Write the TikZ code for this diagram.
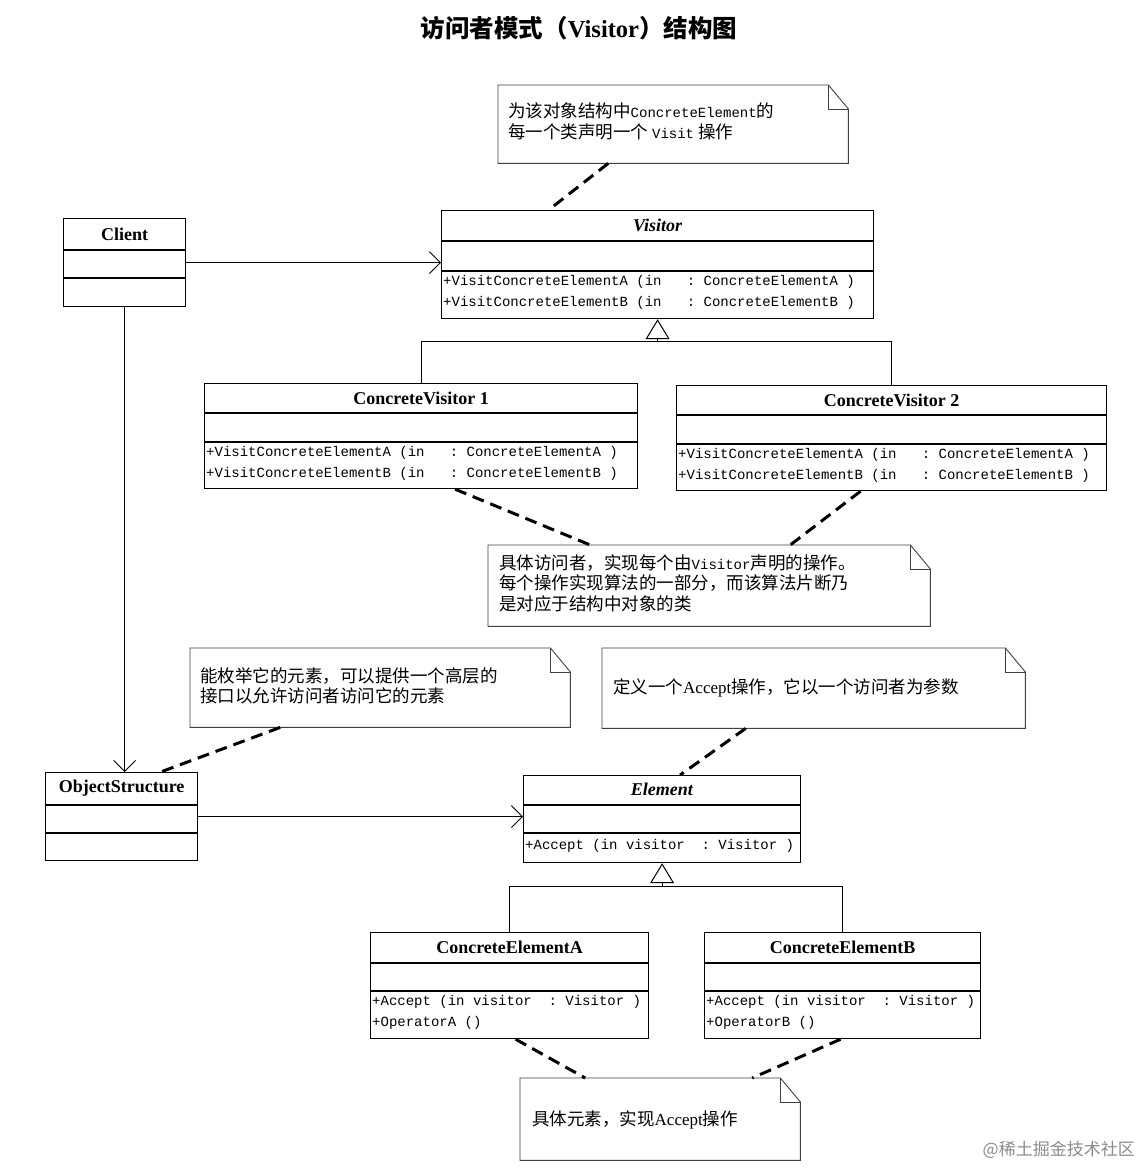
\documentclass[tikz,border=0pt]{standalone}
\usepackage{fontspec}
\setmainfont{Liberation Serif}
\setmonofont{Liberation Mono}
\newfontfamily\cjk{Noto Sans CJK SC}
\usetikzlibrary{arrows.meta,calc}
\newcommand\mylat[1]{{\fontsize{14}{20}\selectfont\ttfamily #1}}
\newcommand\myser[1]{{\fontsize{17}{20}\selectfont\rmfamily #1}}
\newcommand\csep[2]{\draw[sep] (#1.west |- 0,#2) -- (#1.east |- 0,#2);}
\newcommand\drawnote[1]{%
  \draw[noteline] (#1.north west) -- ($(#1.north east)+(-20,0)$) -- ($(#1.north east)+(0,24)$) -- (#1.south east) -- (#1.south west) -- cycle;
  \draw[noteline] ($(#1.north east)+(-20,0)$) -- ($(#1.north east)+(-20,24)$) -- ($(#1.north east)+(0,24)$);}
\tikzset{
 cls/.style={draw, line width=1.2pt, anchor=north west, inner sep=0pt},
 sep/.style={line width=1.2pt},
 ctitle/.style={font=\fontsize{18}{20}\selectfont\bfseries, inner sep=0pt},
 meth/.style={font=\fontsize{14}{21}\selectfont\ttfamily, align=left, anchor=north west, inner sep=0pt},
 notebox/.style={anchor=north west, inner sep=0pt},
 noteline/.style={draw=black!75, line width=0.9pt, line join=miter},
 ntext/.style={font=\fontsize{17.5}{20.5}\selectfont\cjk, align=left, anchor=north west, inner sep=0pt},
 dashc/.style={line width=3pt, dash pattern=on 12pt off 7pt},
 assoc/.style={line width=0.9pt, -{Straight Barb[length=11pt,width=22pt,line width=0.9pt]}},
 inherit/.style={line width=1pt, -{Triangle[open,length=20pt,width=24pt,line width=1pt]}},
 link/.style={line width=1pt},
}
\begin{document}
\begin{tikzpicture}[x=1pt,y=-1pt]
\fill[white] (0,0) rectangle (1141,1168);
\useasboundingbox (0,0) rectangle (1141,1168);

% title
\node[font=\fontsize{24.5}{28}\selectfont\cjk\bfseries, inner sep=0pt] (title) at (579,28) {访问者模式（{\rmfamily\bfseries Visitor}）结构图};

% ---------- classes ----------
% Client
\node[cls, minimum width=122pt, minimum height=88pt] (client) at (63,218) {};
\csep{client}{250}\csep{client}{278}
\node[ctitle] (clientT) at (client.north |- 0,234) {Client};

% Visitor
\node[cls, minimum width=432pt, minimum height=108pt] (visitor) at (441,210) {};
\csep{visitor}{241}\csep{visitor}{271}
\node[ctitle] (visitorT) at (visitor.north |- 0,225) {\textit{Visitor}};
\node[meth] (visitorM) at (443,275) {+VisitConcreteElementA (in\ \ \ : ConcreteElementA\ )\\+VisitConcreteElementB (in\ \ \ : ConcreteElementB\ )};

% ConcreteVisitor 1
\node[cls, minimum width=433pt, minimum height=105pt] (cv1) at (204,383) {};
\csep{cv1}{413}\csep{cv1}{442}
\node[ctitle] (cv1T) at (cv1.north |- 0,398) {ConcreteVisitor 1};
\node[meth] (cv1M) at (206,446) {+VisitConcreteElementA (in\ \ \ : ConcreteElementA\ )\\+VisitConcreteElementB (in\ \ \ : ConcreteElementB\ )};

% ConcreteVisitor 2
\node[cls, minimum width=430pt, minimum height=105pt] (cv2) at (676,385) {};
\csep{cv2}{415}\csep{cv2}{444}
\node[ctitle] (cv2T) at (cv2.north |- 0,400) {ConcreteVisitor 2};
\node[meth] (cv2M) at (678,448) {+VisitConcreteElementA (in\ \ \ : ConcreteElementA\ )\\+VisitConcreteElementB (in\ \ \ : ConcreteElementB\ )};

% ObjectStructure
\node[cls, minimum width=152pt, minimum height=88pt] (os) at (45,772) {};
\csep{os}{805}\csep{os}{833}
\node[ctitle] (osT) at (os.north |- 0,788) {ObjectStructure};

% Element
\node[cls, minimum width=277pt, minimum height=87pt] (element) at (523,775) {};
\csep{element}{805}\csep{element}{833}
\node[ctitle] (elementT) at (element.north |- 0,789) {\textit{Element}};
\node[meth] (elementM) at (525,839) {+Accept (in visitor\ \ : Visitor )};

% ConcreteElementA
\node[cls, minimum width=278pt, minimum height=106pt] (cea) at (370,932) {};
\csep{cea}{963}\csep{cea}{991}
\node[ctitle] (ceaT) at (cea.north |- 0,947) {ConcreteElementA};
\node[meth] (ceaM) at (372,995) {+Accept (in visitor\ \ : Visitor )\\+OperatorA ()};

% ConcreteElementB
\node[cls, minimum width=276pt, minimum height=106pt] (ceb) at (704,932) {};
\csep{ceb}{963}\csep{ceb}{991}
\node[ctitle] (cebT) at (ceb.north |- 0,947) {ConcreteElementB};
\node[meth] (cebM) at (706,995) {+Accept (in visitor\ \ : Visitor )\\+OperatorB ()};

% ---------- notes ----------
\node[notebox, minimum width=350pt, minimum height=78pt] (n1) at (498,85) {};
\drawnote{n1}
\node[ntext] (n1T) at (508,103) {为该对象结构中\mylat{ConcreteElement}的\\每一个类声明一个 \mylat{Visit} 操作};

\node[notebox, minimum width=442pt, minimum height=81pt] (n2) at (488,545) {};
\drawnote{n2}
\node[ntext] (n2T) at (499,554) {具体访问者，实现每个由\mylat{Visitor}声明的操作。\\每个操作实现算法的一部分，而该算法片断乃\\是对应于结构中对象的类};

\node[notebox, minimum width=380pt, minimum height=79pt] (n3) at (190,648) {};
\drawnote{n3}
\node[ntext] (n3T) at (200,667) {能枚举它的元素，可以提供一个高层的\\接口以允许访问者访问它的元素};

\node[notebox, minimum width=423pt, minimum height=80pt] (n4) at (602,648) {};
\drawnote{n4}
\node[ntext] (n4T) at (613,678) {定义一个\myser{Accept}操作，它以一个访问者为参数};

\node[notebox, minimum width=280pt, minimum height=82pt] (n5) at (520,1078) {};
\drawnote{n5}
\node[ntext] (n5T) at (532,1110) {具体元素，实现\myser{Accept}操作};

% ---------- connectors ----------
\draw[assoc] (client.east) -- (visitor.west |- client.east);
\draw[assoc] (client.south) -- (client.south |- os.north);
\draw[assoc] (os.east) -- (element.west |- os.east);

\coordinate (vj) at ($(visitor.south)+(0,22)$);
\draw[link] (cv1.north) |- (vj) -| (cv2.north);
\draw[inherit] (vj) -- (visitor.south);

\coordinate (ej) at ($(element.south)+(0,23)$);
\draw[link] (cea.north) |- (ej) -| (ceb.north);
\draw[inherit] (ej) -- (element.south);

\draw[dashc] ([xshift=-65pt]n1.south) -- ([xshift=-109pt]visitor.north);
\draw[dashc] ([xshift=34pt]cv1.south) -- ([xshift=-119pt]n2.north);
\draw[dashc] ([xshift=-31pt]cv2.south) -- ([xshift=81pt]n2.north);
\draw[dashc] ([xshift=-100pt]n3.south) -- ([xshift=39pt]os.north);
\draw[dashc] ([xshift=-68pt]n4.south) -- ([xshift=18pt]element.north);
\draw[dashc] ([xshift=6pt]cea.south) -- ([xshift=-75pt]n5.north);
\draw[dashc] ([xshift=-2pt]ceb.south) -- ([xshift=92pt]n5.north);

% watermark
\node[font=\fontsize{17}{20}\selectfont\cjk, text=black!45, anchor=east, inner sep=0pt] (wm) at (1135,1150) {@稀土掘金技术社区};
\end{tikzpicture}
\end{document}
